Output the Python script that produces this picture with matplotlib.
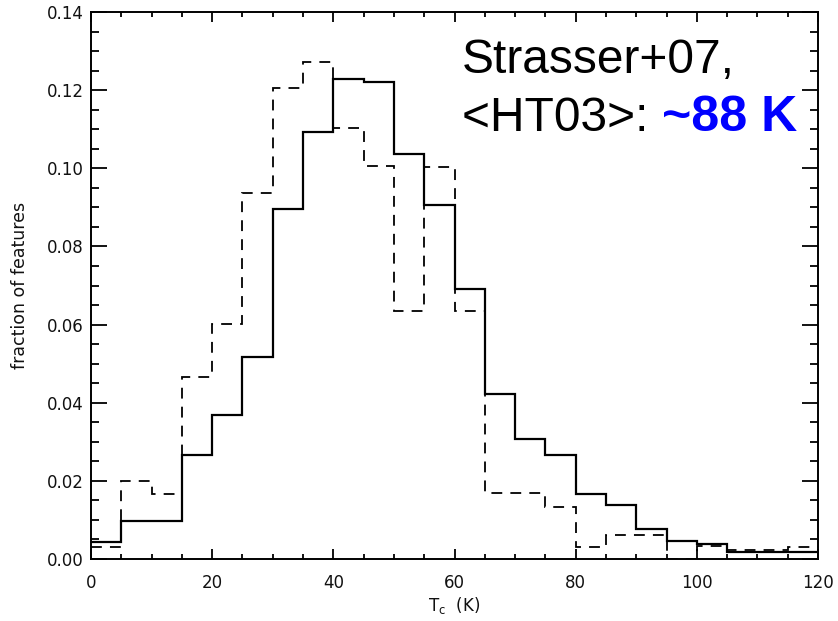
import matplotlib
matplotlib.use("Agg")
import matplotlib.pyplot as plt
import numpy as np
from matplotlib.ticker import MultipleLocator

# Data: bin edges (K) and fractions of features
bin_edges = np.arange(0, 125, 5)
solid_frac = [0.0043, 0.0097, 0.0097, 0.0265, 0.0368, 0.0517, 0.0897, 0.1092,
              0.1228, 0.1222, 0.1036, 0.0905, 0.0690, 0.0423, 0.0307, 0.0265,
              0.0167, 0.0139, 0.0077, 0.0046, 0.0039, 0.0018, 0.0018, 0.0018]
dashed_frac = [0.0031, 0.0200, 0.0167, 0.0465, 0.0601, 0.0938, 0.1205, 0.1271,
               0.1103, 0.1006, 0.0634, 0.1004, 0.0634, 0.0169, 0.0169, 0.0133,
               0.0031, 0.0062, 0.0062, 0.0000, 0.0032, 0.0024, 0.0024, 0.0031]
x_ticks = [0, 20, 40, 60, 80, 100, 120]
y_ticks = [0.00, 0.02, 0.04, 0.06, 0.08, 0.10, 0.12, 0.14]
y_ticklabels = ["0.00", "0.02", "0.04", "0.06", "0.08", "0.10", "0.12", "0.14"]

plt.rcParams['font.family'] = ['DejaVu Sans']

fig = plt.figure(figsize=(8.38, 6.21), dpi=100)
ax = fig.add_axes([91/838, 1-559/621, (818-91)/838, (559-12)/621])

ax.stairs(solid_frac, bin_edges, baseline=None, color='black', lw=1.6)
ax.stairs(dashed_frac, bin_edges, baseline=None, color='black', lw=1.3,
          linestyle=(0, (6, 4.5)))

ax.set_xlim(0, 120)
ax.set_ylim(0, 0.14)
ax.set_xticks(x_ticks)
ax.set_yticks(y_ticks)
ax.set_yticklabels(y_ticklabels)
ax.xaxis.set_minor_locator(MultipleLocator(5))
ax.yaxis.set_minor_locator(MultipleLocator(0.005))

ax.tick_params(axis='both', which='both', direction='in', top=True, right=True,
               labelsize=12, color='black', width=1.3, labelcolor='#111111')
ax.tick_params(axis='x', which='major', length=7.2, pad=11)
ax.tick_params(axis='x', which='minor', length=3.6)
ax.tick_params(axis='y', which='major', length=11.2, pad=5)
ax.tick_params(axis='y', which='minor', length=5.8)
for s in ax.spines.values():
    s.set_linewidth(1.4)

ax.set_xlabel(r"T$_{\rm c}$  (K)", fontsize=12, labelpad=2, color='#111111')
ax.set_ylabel("fraction of features", fontsize=12.5, labelpad=13, color='#111111')

t1 = fig.text(462/838, 1-73/621, "Strasser+07,", fontsize=34.5,
              family=['Liberation Sans', 'DejaVu Sans'],
              color='black', ha='left', va='baseline')
t2 = fig.text(462/838, 1-131/621, "<HT03>: ", fontsize=34.5,
              family=['Liberation Sans', 'DejaVu Sans'],
              color='black', ha='left', va='baseline')
ax.annotate("~88 K", xy=(1, 0), xycoords=t2, fontsize=36, fontweight='bold',
            family=['Liberation Sans', 'DejaVu Sans'],
            color='#0000ff', ha='left', va='bottom')

fig.savefig("out.png", dpi=100)
